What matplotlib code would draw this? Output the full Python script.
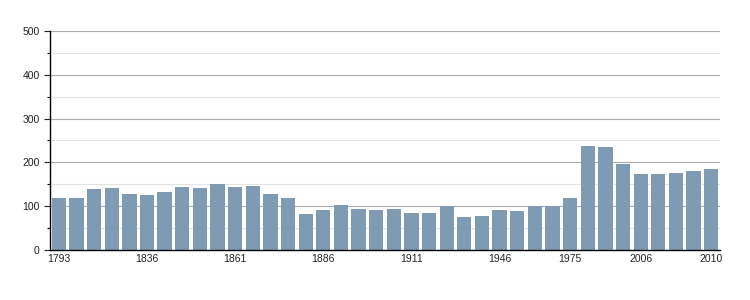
import matplotlib
matplotlib.use('Agg')
import matplotlib.pyplot as plt
from matplotlib.ticker import MultipleLocator

# census years and population
years = [1793, 1800, 1806, 1821, 1831, 1836, 1841, 1846, 1851, 1856,
         1861, 1866, 1872, 1876, 1881, 1886, 1891, 1896, 1901, 1906,
         1911, 1921, 1926, 1931, 1936, 1946, 1954, 1962, 1968, 1975,
         1982, 1990, 1999, 2006, 2007, 2008, 2009, 2010]
population = [119, 119, 140, 142, 128, 126, 133, 144, 142, 151,
              144, 147, 128, 119, 82, 92, 103, 94, 92, 94,
              85, 85, 101, 76, 78, 92, 89, 101, 101, 119,
              238, 234, 197, 174, 174, 176, 181, 185]
labelled_years = [1793, 1836, 1861, 1886, 1911, 1946, 1975, 2006, 2010]

plt.rcParams['font.family'] = ['Liberation Sans', 'DejaVu Sans']

fig = plt.figure(figsize=(7.5, 3), dpi=100)
ax = fig.add_axes([0.0667, 0.1667, 0.8933, 0.73])

x = list(range(len(years)))
ax.bar(x, population, width=0.81, color='#7f9ab3', zorder=3)

ax.set_xlim(-0.5, len(years) - 0.5)
ax.set_ylim(0, 500)
ax.yaxis.set_major_locator(MultipleLocator(100))
ax.yaxis.set_minor_locator(MultipleLocator(50))
ax.grid(axis='y', which='major', color='#aaaaaa', linewidth=0.8, zorder=0)
ax.grid(axis='y', which='minor', color='#e2e2e2', linewidth=0.8, zorder=0)

tick_pos = [years.index(y) for y in labelled_years]
ax.set_xticks(tick_pos)
ax.set_xticklabels([str(y) for y in labelled_years])
ax.tick_params(axis='x', length=0, pad=3, labelsize=7.5, colors='#222222')
ax.tick_params(axis='y', which='major', length=4, width=0.8, labelsize=7.5, colors='#222222')
ax.tick_params(axis='y', which='minor', length=2, width=0.8)

for s in ['top', 'right']:
    ax.spines[s].set_visible(False)
for s in ['left', 'bottom']:
    ax.spines[s].set_color('black')
    ax.spines[s].set_linewidth(1)
    ax.spines[s].set_zorder(4)

fig.savefig('out.png', dpi=100)
